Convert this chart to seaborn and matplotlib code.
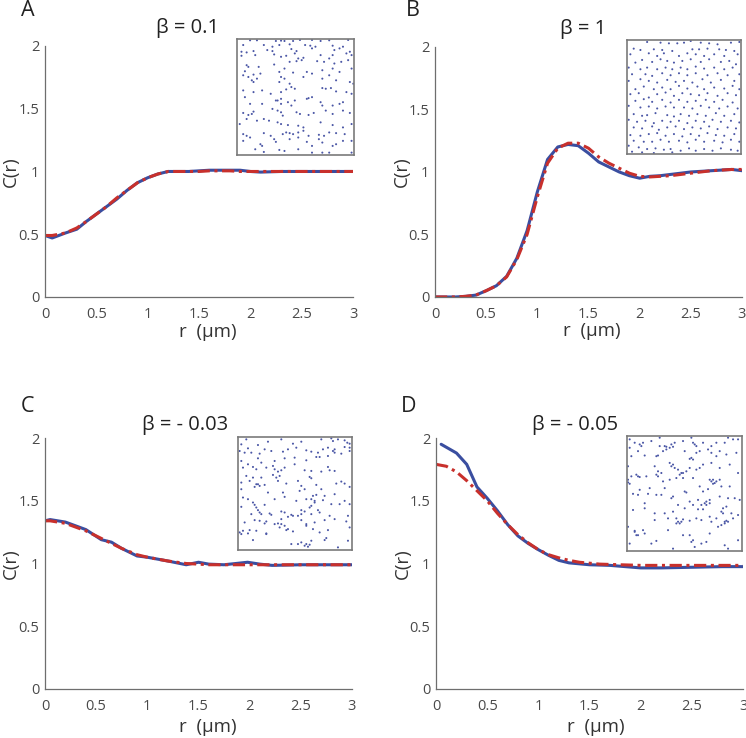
import numpy as np
import pandas as pd
import matplotlib
matplotlib.use("Agg")
import matplotlib.pyplot as plt
import seaborn as sns

sns.set_theme(style="white")
plt.rcParams["font.family"] = ["Open Sans", "DejaVu Sans"]

# ---- pair correlation curves ----
r_a = [0, 0.07, 0.2, 0.31, 0.4, 0.5, 0.6, 0.7, 0.8, 0.9, 1.0, 1.1, 1.2, 1.3, 1.4, 1.5, 1.6, 1.7, 1.8, 1.9, 2.0, 2.1, 2.3, 2.5, 2.7, 2.9, 3.0]
blue_a = [0.49, 0.47, 0.51, 0.54, 0.6, 0.66, 0.72, 0.78, 0.85, 0.91, 0.95, 0.98, 1.0, 1.0, 1.0, 1.005, 1.01, 1.01, 1.01, 1.01, 1.0, 0.995, 1.0, 1.0, 1.0, 1.0, 1.0]
red_a = [0.49, 0.49, 0.51, 0.55, 0.6, 0.66, 0.72, 0.79, 0.85, 0.91, 0.95, 0.98, 1.0, 1.0, 1.0, 1.0, 1.005, 1.005, 1.005, 1.0, 1.0, 1.0, 1.0, 1.0, 1.0, 1.0, 1.0]

r_b = [0, 0.1, 0.2, 0.3, 0.4, 0.5, 0.6, 0.7, 0.8, 0.9, 1.0, 1.1, 1.2, 1.3, 1.4, 1.5, 1.6, 1.7, 1.8, 1.9, 2.0, 2.1, 2.2, 2.3, 2.5, 2.7, 2.9, 3.0]
blue_b = [0, 0, 0, 0.005, 0.015, 0.05, 0.09, 0.165, 0.31, 0.53, 0.84, 1.1, 1.2, 1.22, 1.21, 1.15, 1.08, 1.04, 1.0, 0.97, 0.95, 0.965, 0.97, 0.98, 1.0, 1.01, 1.02, 1.01]
red_b = [0, 0, 0, 0.005, 0.015, 0.05, 0.09, 0.16, 0.3, 0.5, 0.8, 1.07, 1.19, 1.23, 1.23, 1.19, 1.12, 1.07, 1.03, 0.99, 0.965, 0.96, 0.965, 0.97, 0.99, 1.01, 1.02, 1.02]

r_c = [0, 0.05, 0.2, 0.4, 0.55, 0.65, 0.75, 0.9, 1.0, 1.2, 1.38, 1.5, 1.6, 1.75, 1.98, 2.1, 2.22, 2.5, 2.8, 3.0]
blue_c = [1.34, 1.35, 1.33, 1.27, 1.19, 1.17, 1.12, 1.06, 1.05, 1.02, 0.99, 1.01, 0.995, 0.99, 1.01, 0.995, 0.985, 0.99, 0.99, 0.99]
red_c = [1.34, 1.34, 1.32, 1.26, 1.2, 1.16, 1.12, 1.07, 1.05, 1.02, 1.0, 0.995, 0.99, 0.99, 0.99, 0.99, 0.99, 0.99, 0.99, 0.99]

r_d = [0.05, 0.2, 0.3, 0.4, 0.5, 0.6, 0.7, 0.8, 0.9, 1.0, 1.1, 1.2, 1.3, 1.5, 1.7, 2.0, 2.2, 2.5, 2.8, 3.0]
blue_d = [1.95, 1.88, 1.79, 1.61, 1.52, 1.42, 1.31, 1.22, 1.16, 1.11, 1.065, 1.025, 1.005, 0.99, 0.985, 0.965, 0.965, 0.97, 0.975, 0.975]
r_d2 = [0, 0.1, 0.2, 0.3, 0.4, 0.5, 0.6, 0.7, 0.8, 0.9, 1.0, 1.1, 1.2, 1.3, 1.4, 1.6, 2.0, 2.5, 3.0]
red_d = [1.79, 1.775, 1.73, 1.66, 1.58, 1.5, 1.4, 1.31, 1.23, 1.165, 1.11, 1.07, 1.045, 1.025, 1.01, 0.995, 0.985, 0.985, 0.985]

# ---- inset point patterns (image units of each inset, y downwards) ----
pts_a = [(60,16),(80,16),(135,18),(150,17),(160,18),(185,18),(205,15),(240,15),(265,18),(290,16),(345,15),
         (40,30),(100,30),(125,35),(145,30),(175,28),(220,30),(235,32),(250,35),(300,32),(330,35),
         (35,50),(50,52),(70,48),(110,45),(125,48),(180,42),(195,48),(240,40),(305,45),(320,40),(350,50),
         (35,62),(75,60),(130,58),(150,65),(165,62),(190,55),(200,70),(210,75),(215,68),(265,60),(290,70),(300,60),(340,55),(355,60),
         (50,90),(55,95),(85,95),(130,88),(175,80),(195,78),(255,78),(275,80),(305,85),(325,80),(345,75),
         (45,108),(90,115),(145,110),(160,100),(185,112),(225,110),(240,115),(270,105),(300,100),(320,110),(355,100),
         (40,120),(55,125),(70,118),(80,130),(150,125),(160,130),(175,145),(215,125),(270,130),(290,120),(310,135),
         (65,135),(70,140),(145,140),(180,155),(190,160),(350,140),(360,145),
         (40,165),(70,170),(95,165),(150,170),(165,162),(270,158),(280,160),(295,158),(310,168),(340,170),(355,175),
         (45,185),(120,175),(135,195),(140,195),(150,190),(190,195),(225,190),(230,188),(240,185),(265,200),(270,210),(300,210),(320,205),(330,200),
         (60,205),(95,205),(150,205),(170,200),(180,210),
         (40,232),(55,238),(65,235),(70,228),(100,250),(125,220),(140,225),(150,230),(155,240),(195,230),(205,235),(230,238),(245,232),(280,225),(300,235),(330,225),(350,232),
         (30,265),(50,250),(80,255),(115,255),(140,260),(150,265),(170,268),(200,270),(215,275),(265,260),(300,268),(330,275),(355,265),
         (40,295),(50,300),(100,292),(120,300),(155,295),(165,290),(175,292),(185,295),(200,290),(215,285),(230,300),(260,297),(275,300),(290,290),(310,292),(335,295),
         (40,315),(60,305),(90,325),(95,330),(130,310),(135,318),(175,310),(200,305),(225,318),(260,310),(270,320),(300,330),(330,315),(355,315),
         (75,340),(100,348),(145,342),(160,345),(200,340),(240,330),(240,350),(270,350),(290,350),(310,325),(355,350)]

pts_b = [(80,18),(120,20),(145,22),(170,22),(190,20),(210,15),(240,20),(265,22),(290,25),(330,20),(355,18),
         (40,38),(60,42),(100,40),(125,42),(155,45),(215,40),(235,40),(260,38),(295,40),(315,42),(340,45),
         (30,55),(85,52),(110,60),(130,52),(175,60),(200,52),(225,55),(250,60),(280,55),(310,60),(350,55),
         (45,80),(65,72),(95,78),(120,70),(140,75),(160,80),(185,75),(210,70),(240,78),(265,70),(300,78),(325,75),(345,85),
         (25,95),(60,100),(80,95),(110,100),(135,95),(155,100),(180,95),(200,100),(225,92),(250,98),(280,95),(310,100),(335,95),
         (35,115),(75,115),(95,120),(125,112),(150,118),(175,112),(200,118),(225,112),(260,118),(290,112),(320,118),(355,115),
         (25,135),(60,130),(85,135),(110,140),(140,132),(165,138),(190,135),(215,140),(245,130),(270,140),(300,132),(340,135),
         (45,160),(70,152),(100,160),(125,155),(150,160),(175,150),(200,158),(230,152),(250,160),(280,155),(310,158),(335,150),(355,160),
         (30,175),(55,172),(85,185),(110,175),(135,170),(160,180),(185,172),(210,175),(235,178),(260,172),(290,180),(320,172),(345,178),
         (45,195),(70,190),(95,198),(125,192),(150,200),(175,192),(200,198),(225,195),(255,192),(280,198),(305,192),(335,200),
         (25,210),(60,215),(85,212),(110,218),(135,212),(160,215),(190,215),(215,218),(240,210),(265,215),(295,218),(320,212),(350,218),
         (40,235),(65,240),(80,238),(105,232),(140,238),(160,242),(180,235),(205,240),(230,235),(255,240),(285,232),(310,240),(340,235),
         (25,252),(50,258),(75,255),(100,262),(125,255),(150,258),(175,255),(200,262),(225,255),(250,258),(275,252),(300,258),(330,255),(355,260),
         (40,275),(65,278),(95,272),(115,282),(140,275),(165,272),(190,280),(215,275),(240,278),(265,272),(290,280),(320,275),(345,278),
         (30,298),(60,300),(85,295),(110,292),(135,300),(160,295),(185,302),(210,295),(235,300),(260,292),(285,298),(310,300),(340,295),
         (40,315),(70,318),(95,318),(120,312),(145,318),(175,315),(200,320),(225,312),(250,318),(280,315),(305,320),(330,312),(355,318),
         (25,330),(55,335),(80,340),(105,338),(130,342),(150,340),(180,345),(205,338),(225,345),(250,340),(275,345),(300,338),(330,342),(350,345),
         (35,348),(65,350),(100,352),(155,350)]

pts_c = [(20,30),(35,15),(40,42),(70,32),(100,22),(140,15),(175,28),(200,22),(260,15),(290,12),(295,20),(310,15),(330,18),(345,28),(338,25),(330,38),(345,40),
         (15,50),(30,55),(50,55),(75,58),(90,45),(110,50),(145,52),(160,45),(185,40),(215,48),(230,52),(250,55),(265,45),(280,40),(295,50),(300,45),(320,58),(345,50),
         (20,80),(40,90),(70,72),(80,85),(120,80),(150,72),(180,70),(215,78),(245,68),(255,68),(280,65),(300,55),
         (25,100),(55,98),(65,105),(95,100),(115,95),(120,105),(130,112),(140,108),(150,100),(180,90),(210,108),(230,110),(280,98),(285,108),(300,110),
         (35,125),(55,130),(80,130),(115,122),(125,130),(135,125),(190,140),(225,128),(230,132),(260,112),
         (20,145),(45,140),(65,150),(75,155),(90,152),(130,140),(155,148),(200,155),(245,152),(260,165),(305,148),(320,142),(330,148),(345,158),
         (20,165),(60,158),(70,150),(100,175),(145,175),(195,170),(210,165),(235,185),(245,182),(270,185),(300,180),
         (25,190),(40,195),(55,205),(90,212),(120,195),(150,188),(185,200),(215,195),(230,195),(240,200),(265,198),(290,210),(315,210),(330,200),(345,210),
         (20,218),(60,212),(65,220),(70,228),(75,235),(105,238),(140,232),(150,235),(170,242),(190,245),(200,228),(210,232),(225,220),(230,215),(240,205),(250,228),(255,235),
         (50,240),(80,240),(110,242),(140,255),(160,248),(175,245),(200,240),(230,240),(285,245),(300,255),(340,245),
         (30,265),(60,258),(75,260),(90,268),(95,262),(120,270),(130,268),(140,270),(150,275),(160,285),(200,258),(215,270),(240,265),(270,258),(335,262),
         (15,295),(25,290),(40,298),(45,288),(65,290),(95,298),(135,280),(155,288),(175,292),(215,275),(235,285),(255,295),(280,288),(345,280),
         (20,300),(55,318),(95,300),(170,330),(190,330),(200,325),(210,335),(215,330),(220,338),(225,332),(230,320),(270,318),(275,312),(310,340),(340,320)]

pts_d = [(20,20),(35,30),(50,35),(55,40),(60,30),(85,25),(110,15),(110,40),(125,40),(130,42),(140,45),(145,35),(150,42),(155,30),(180,25),(205,15),(210,30),(215,35),(220,40),(240,30),(265,40),(280,30),(305,30),(315,15),(330,20),(345,20),
         (20,45),(25,70),(45,55),(65,68),(100,70),(105,68),(120,55),(130,50),(185,55),(200,78),(205,75),(210,80),(220,60),(230,55),(255,50),(265,60),(280,70),(290,55),(310,65),(340,60),
         (15,100),(25,130),(40,125),(45,130),(50,132),(70,130),(95,100),(105,115),(100,125),(105,130),(115,120),(140,90),(145,100),(150,95),(155,105),(165,110),(175,120),(170,125),(180,120),(190,115),(200,105),(220,110),(230,105),(240,95),(265,90),(290,105),(320,95),(345,120),
         (15,140),(15,148),(20,152),(30,182),(50,170),(75,182),(80,165),(120,145),(125,165),(140,140),(160,135),(180,135),(210,135),(230,160),(240,175),(260,140),(265,145),(270,140),(275,150),(280,145),(270,152),(290,140),(255,168),(295,160),(320,160),
         (45,185),(100,185),(115,185),(145,195),(150,190),(185,175),(190,178),(200,205),(210,215),(225,200),(235,215),(240,228),(245,210),(250,205),(260,200),(260,210),(290,190),(315,195),(335,195),(350,200),
         (30,230),(65,210),(65,225),(95,240),(125,240),(150,235),(165,215),(185,225),(225,228),(250,215),(295,235),(300,225),(310,220),(300,240),(325,240),(345,245),
         (15,280),(35,295),(40,305),(45,305),(65,300),(60,290),(95,260),(135,255),(160,255),(160,270),(165,265),(170,270),(175,265),(180,258),(200,262),(220,255),(235,260),(260,250),(265,265),(280,255),(305,265),(310,262),(305,270),(315,265),(330,255),
         (20,330),(35,292),(85,330),(100,322),(135,290),(150,345),(180,305),(200,305),(205,325),(210,320),(215,340),(235,330),(250,325),(260,300),(285,280),(295,275),(305,335),(315,345),(345,320)]

# inset frame in the same units: (left, right, top, bottom)
frame_a = (22, 362, 12, 357)
frame_b = (20, 360, 12, 355)
frame_c = (10, 352, 8, 348)
frame_d = (12, 357, 10, 352)

titles = ["β = 0.1", "β = 1", "β = - 0.03", "β = - 0.05"]
letters = ["A", "B", "C", "D"]

blue = "#3a4ea0"
red = "#c8302c"
grey = "#6e6e6e"

panels = [
    dict(r1=r_a, b=blue_a, r2=r_a, rd=red_a, pts=pts_a, frame=frame_a,
         pos=[0.0603, 0.5976, 0.4129, 0.3401], ins=[0.3177, 0.790, 0.1568, 0.1572],
         tx=0.464, ty=1.072, lx=28, ly=10, ylx=-0.082, xlx=0.53, xly=-0.102),
    dict(r1=r_b, b=blue_b, r2=r_b, rd=red_b, pts=pts_b, frame=frame_b,
         pos=[0.5831, 0.5976, 0.4115, 0.3388], ins=[0.8405, 0.7913, 0.1528, 0.1545],
         tx=0.482, ty=1.072, lx=413, ly=10, ylx=-0.078, xlx=0.51, xly=-0.102),
    dict(r1=r_c, b=blue_c, r2=r_c, rd=red_c, pts=pts_c, frame=frame_c,
         pos=[0.0603, 0.0664, 0.4115, 0.3401], ins=[0.3190, 0.2547, 0.1528, 0.1531],
         tx=0.456, ty=1.052, lx=27, ly=407, ylx=-0.082, xlx=0.53, xly=-0.116),
    dict(r1=r_d, b=blue_d, r2=r_d2, rd=red_d, pts=pts_d, frame=frame_d,
         pos=[0.5845, 0.0664, 0.4115, 0.3401], ins=[0.8405, 0.2534, 0.1542, 0.1558],
         tx=0.453, ty=1.052, lx=409, ly=407, ylx=-0.078, xlx=0.52, xly=-0.116),
]

W, H = 746, 738
fig = plt.figure(figsize=(W / 100, H / 100), dpi=100)

for i, p in enumerate(panels):
    ax = fig.add_axes(p["pos"])
    sns.lineplot(x=p["r1"], y=p["b"], ax=ax, color=blue, lw=2.2, solid_capstyle="round")
    sns.lineplot(x=p["r2"], y=p["rd"], ax=ax, color=red, lw=2.2, linestyle=(0, (4, 1.5, 1, 1.5)))
    ax.set_xlim(0, 3)
    ax.set_ylim(0, 2)
    ax.set_xticks([0, 0.5, 1, 1.5, 2, 2.5, 3])
    ax.set_xticklabels(["0", "0.5", "1", "1.5", "2", "2.5", "3"])
    ax.set_yticks([0, 0.5, 1, 1.5, 2])
    ax.set_yticklabels(["0", "0.5", "1", "1.5", "2"])
    ax.tick_params(direction="in", length=4, width=0.8, color=grey, labelcolor="#4a4a4a",
                   labelsize=10.5)
    ax.tick_params(axis="x", pad=7)
    ax.tick_params(axis="y", pad=4)
    for s in ["top", "right"]:
        ax.spines[s].set_visible(False)
    for s in ["left", "bottom"]:
        ax.spines[s].set_color(grey)
        ax.spines[s].set_linewidth(0.9)
    ax.set_xlabel("r  (μm)", fontsize=13.5, color="#333333")
    ax.set_ylabel("C(r)", fontsize=13.5, color="#333333")
    ax.xaxis.set_label_coords(p["xlx"], p["xly"])
    ax.yaxis.set_label_coords(p["ylx"], 0.5)
    ax.text(p["tx"], p["ty"], titles[i], transform=ax.transAxes, ha="center", va="center",
            fontsize=14.5, color="#222222")
    fig.text(p["lx"] / W, 1 - p["ly"] / H, letters[i], ha="center", va="center",
             fontsize=15.5, color="#222222")

    # inset with the particle configuration
    ia = fig.add_axes(p["ins"])
    df = pd.DataFrame(p["pts"], columns=["x", "y"])
    sns.scatterplot(data=df, x="x", y="y", ax=ia, color="#4b57a6", s=2.2, marker="o",
                    edgecolor="none", linewidth=0)
    l, rr, t, b = p["frame"]
    ia.set_xlim(l, rr)
    ia.set_ylim(b, t)
    ia.set_xticks([])
    ia.set_yticks([])
    ia.set_xlabel("")
    ia.set_ylabel("")
    ia.set_facecolor("white")
    for s in ia.spines.values():
        s.set_visible(True)
        s.set_color("#7a7a7a")
        s.set_linewidth(1.2)

fig.savefig("out.png", dpi=100)
